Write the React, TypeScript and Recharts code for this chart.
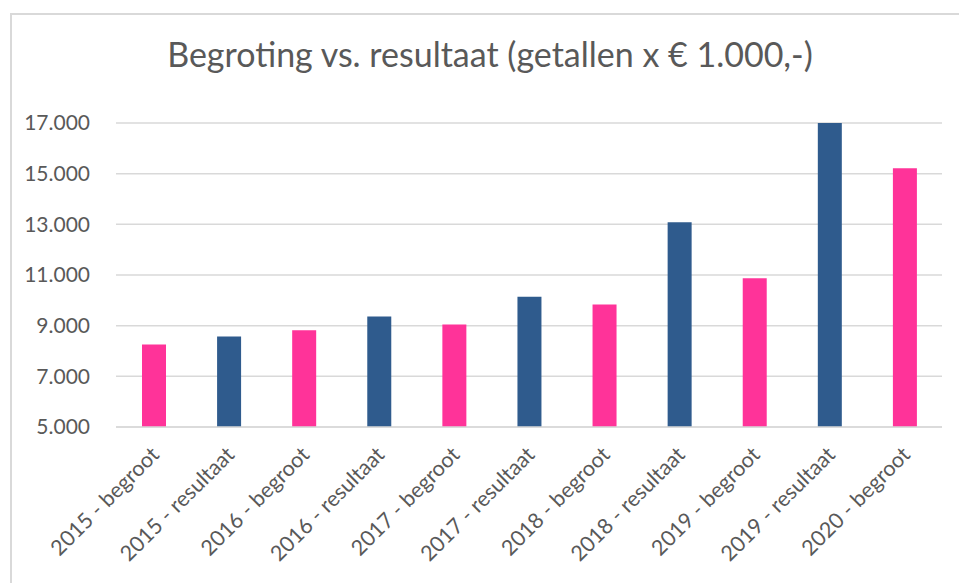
import React from "react";
import { BarChart, Bar, XAxis, YAxis, CartesianGrid, Cell } from "recharts";

const categories = [
  "2015 - begroot",
  "2015 - resultaat",
  "2016 - begroot",
  "2016 - resultaat",
  "2017 - begroot",
  "2017 - resultaat",
  "2018 - begroot",
  "2018 - resultaat",
  "2019 - begroot",
  "2019 - resultaat",
  "2020 - begroot",
];
const values = [8260, 8570, 8820, 9360, 9050, 10140, 9840, 13080, 10870, 17040, 15210];
const kinds = ["begroot", "resultaat", "begroot", "resultaat", "begroot", "resultaat", "begroot", "resultaat", "begroot", "resultaat", "begroot"];
const yTicks = [5000, 7000, 9000, 11000, 13000, 15000, 17000];
const title = "Begroting vs. resultaat (getallen x € 1.000,-)";

const colors: Record<string, string> = { begroot: "#FF3399", resultaat: "#2F5B8D" };

const data = categories.map((c, i) => ({ name: c, value: values[i], kind: kinds[i] }));

const FONT = "Lato, 'Open Sans', sans-serif";
const fmt = (v: number) => v.toLocaleString("de-DE");

const XTick = (props: any) => {
  const { x, y, payload } = props;
  return (
    <g transform={`translate(${x + 7},${y + 21})`}>
      <text
        transform="rotate(-45)"
        textAnchor="end"
        fill="#595959"
        fontSize={21.5}
        fontFamily={FONT}
      >
        {payload.value}
      </text>
    </g>
  );
};

export default function App() {
  return (
    <div style={{ position: "absolute", left: 0, top: 0, width: 959, height: 583, background: "#fff", overflow: "hidden" }}>
      <div
        style={{
          position: "absolute",
          left: 10,
          top: 13,
          width: 1000,
          height: 1000,
          borderLeft: "2px solid #d9d9d9",
          borderTop: "2px solid #d9d9d9",
        }}
      />
      <svg style={{ position: "absolute", left: 0, top: 0 }} width={959} height={100}>
        <text x={490} y={67} textAnchor="middle" fill="#595959" fontSize={34} fontFamily={FONT}>
          {title}
        </text>
      </svg>
      <div style={{ position: "absolute", left: 0, top: 0 }}>
        <BarChart
          width={959}
          height={583}
          data={data}
          margin={{ top: 123, right: 17, bottom: 0, left: 0 }}
        >
          <CartesianGrid vertical={false} stroke="#d9d9d9" strokeWidth={1.5} />
          <XAxis
            dataKey="name"
            interval={0}
            height={156}
            tickLine={false}
            axisLine={{ stroke: "#d9d9d9", strokeWidth: 1.5 }}
            tick={<XTick />}
          />
          <YAxis
            width={116}
            domain={[5000, 17000]}
            ticks={yTicks}
            allowDataOverflow
            tickLine={false}
            axisLine={false}
            tickMargin={20}
            tickFormatter={fmt}
            tick={{ fill: "#595959", fontSize: 21, fontFamily: FONT }}
          />
          <Bar dataKey="value" barSize={24} isAnimationActive={false}>
            {data.map((d, i) => (
              <Cell key={i} fill={colors[d.kind]} />
            ))}
          </Bar>
        </BarChart>
      </div>
    </div>
  );
}
